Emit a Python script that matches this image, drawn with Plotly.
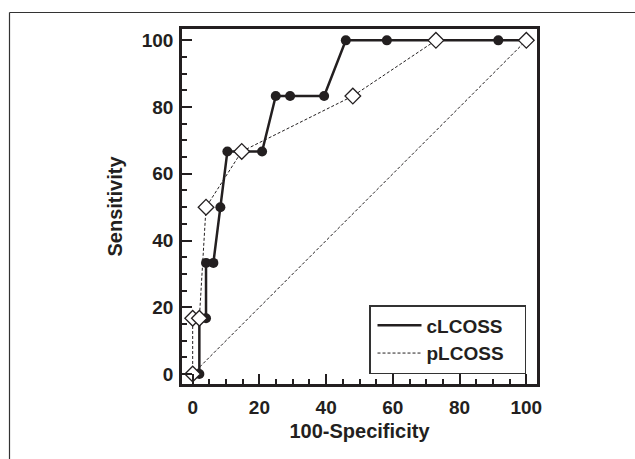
import plotly.graph_objects as go

# Data
c_x = [2, 2, 4, 4, 6.2, 8.3, 10.4, 20.8, 24.9, 29.2, 39.4, 45.9, 58.2, 91.6, 100]
c_y = [0, 16.7, 16.7, 33.3, 33.3, 50, 66.7, 66.7, 83.3, 83.3, 83.3, 100, 100, 100, 100]
p_x = [0, 0, 2, 4, 14.7, 48, 72.9, 100]
p_y = [0, 16.7, 16.7, 50, 66.7, 83.3, 100, 100]
ref_x = [0, 100]
ref_y = [0, 100]
x_ticks = [0, 20, 40, 60, 80, 100]
y_ticks = [0, 20, 40, 60, 80, 100]
series_names = ["cLCOSS", "pLCOSS"]

INK = "#231f20"
FONT = "Liberation Sans, Arial, sans-serif"
DASH = "3px,2px"
PAD = "\u00a0\u00a0\u00a0"

fig = go.Figure()
# reference diagonal
fig.add_trace(go.Scatter(x=ref_x, y=ref_y, mode="lines", showlegend=False,
                         line=dict(color=INK, width=1, dash=DASH), hoverinfo="skip"))
# cLCOSS
fig.add_trace(go.Scatter(x=c_x, y=c_y, mode="lines", name=series_names[0] + PAD,
                         line=dict(color=INK, width=2.5)))
fig.add_trace(go.Scatter(x=c_x, y=c_y, mode="markers", showlegend=False,
                         marker=dict(symbol="circle", size=10, color=INK,
                                     line=dict(color=INK, width=0))))
# pLCOSS
fig.add_trace(go.Scatter(x=p_x, y=p_y, mode="lines", name=series_names[1] + PAD,
                         line=dict(color=INK, width=1, dash=DASH)))
fig.add_trace(go.Scatter(x=p_x, y=p_y, mode="markers", showlegend=False,
                         marker=dict(symbol="diamond", size=12, color="white",
                                     line=dict(color=INK, width=1.3))))

W, H = 635, 459
L, R, T, B = 182, 98, 29, 75
pw, ph = W - L - R, H - T - B

def px(xp):
    return (xp - L) / pw

def py(yp):
    return (H - B - yp) / ph

axis_common = dict(
    showgrid=False, zeroline=False, showline=True, linecolor=INK, linewidth=2.5,
    mirror=True, ticks="inside", ticklen=10, tickwidth=2, tickcolor=INK,
    tickfont=dict(family=FONT, size=19, color=INK, weight="bold"),
    minor=dict(dtick=5, ticks="inside", ticklen=5, tickwidth=1.5, tickcolor=INK),
)

fig.update_layout(
    width=W, height=H,
    margin=dict(l=L, r=R, t=T, b=B, autoexpand=False),
    paper_bgcolor="white", plot_bgcolor="white",
    xaxis=dict(range=[-3.2, 103.2], tickvals=x_ticks, ticktext=[str(v) for v in x_ticks],
               title=dict(text="100-Specificity", standoff=8,
                          font=dict(family=FONT, size=20, color=INK, weight="bold")),
               ticklabelstandoff=4, **axis_common),
    yaxis=dict(range=[-3.0, 103.4], tickvals=y_ticks, ticktext=[str(v) for v in y_ticks],
               title=dict(text="Sensitivity", standoff=14,
                          font=dict(family=FONT, size=20, color=INK, weight="bold")),
               ticklabelstandoff=2, **axis_common),
    legend=dict(x=px(526), y=py(374), xanchor="right", yanchor="bottom",
                bgcolor="white", bordercolor="#333333", borderwidth=1.5,
                font=dict(family=FONT, size=19, color=INK, weight="bold"),
                tracegroupgap=0, itemwidth=44, indentation=2),
    shapes=[
        dict(type="line", xref="paper", yref="paper", x0=px(9.5), x1=px(W + 5),
             y0=py(12.5), y1=py(12.5), line=dict(color="#333333", width=1.2)),
        dict(type="line", xref="paper", yref="paper", x0=px(9.5), x1=px(9.5),
             y0=py(12.5), y1=py(H + 5), line=dict(color="#333333", width=1.2)),
    ],
    showlegend=True,
)

fig.write_html("out.html", config={"displayModeBar": False},
               post_script="document.body.style.margin='0';document.body.style.overflow='hidden';")
